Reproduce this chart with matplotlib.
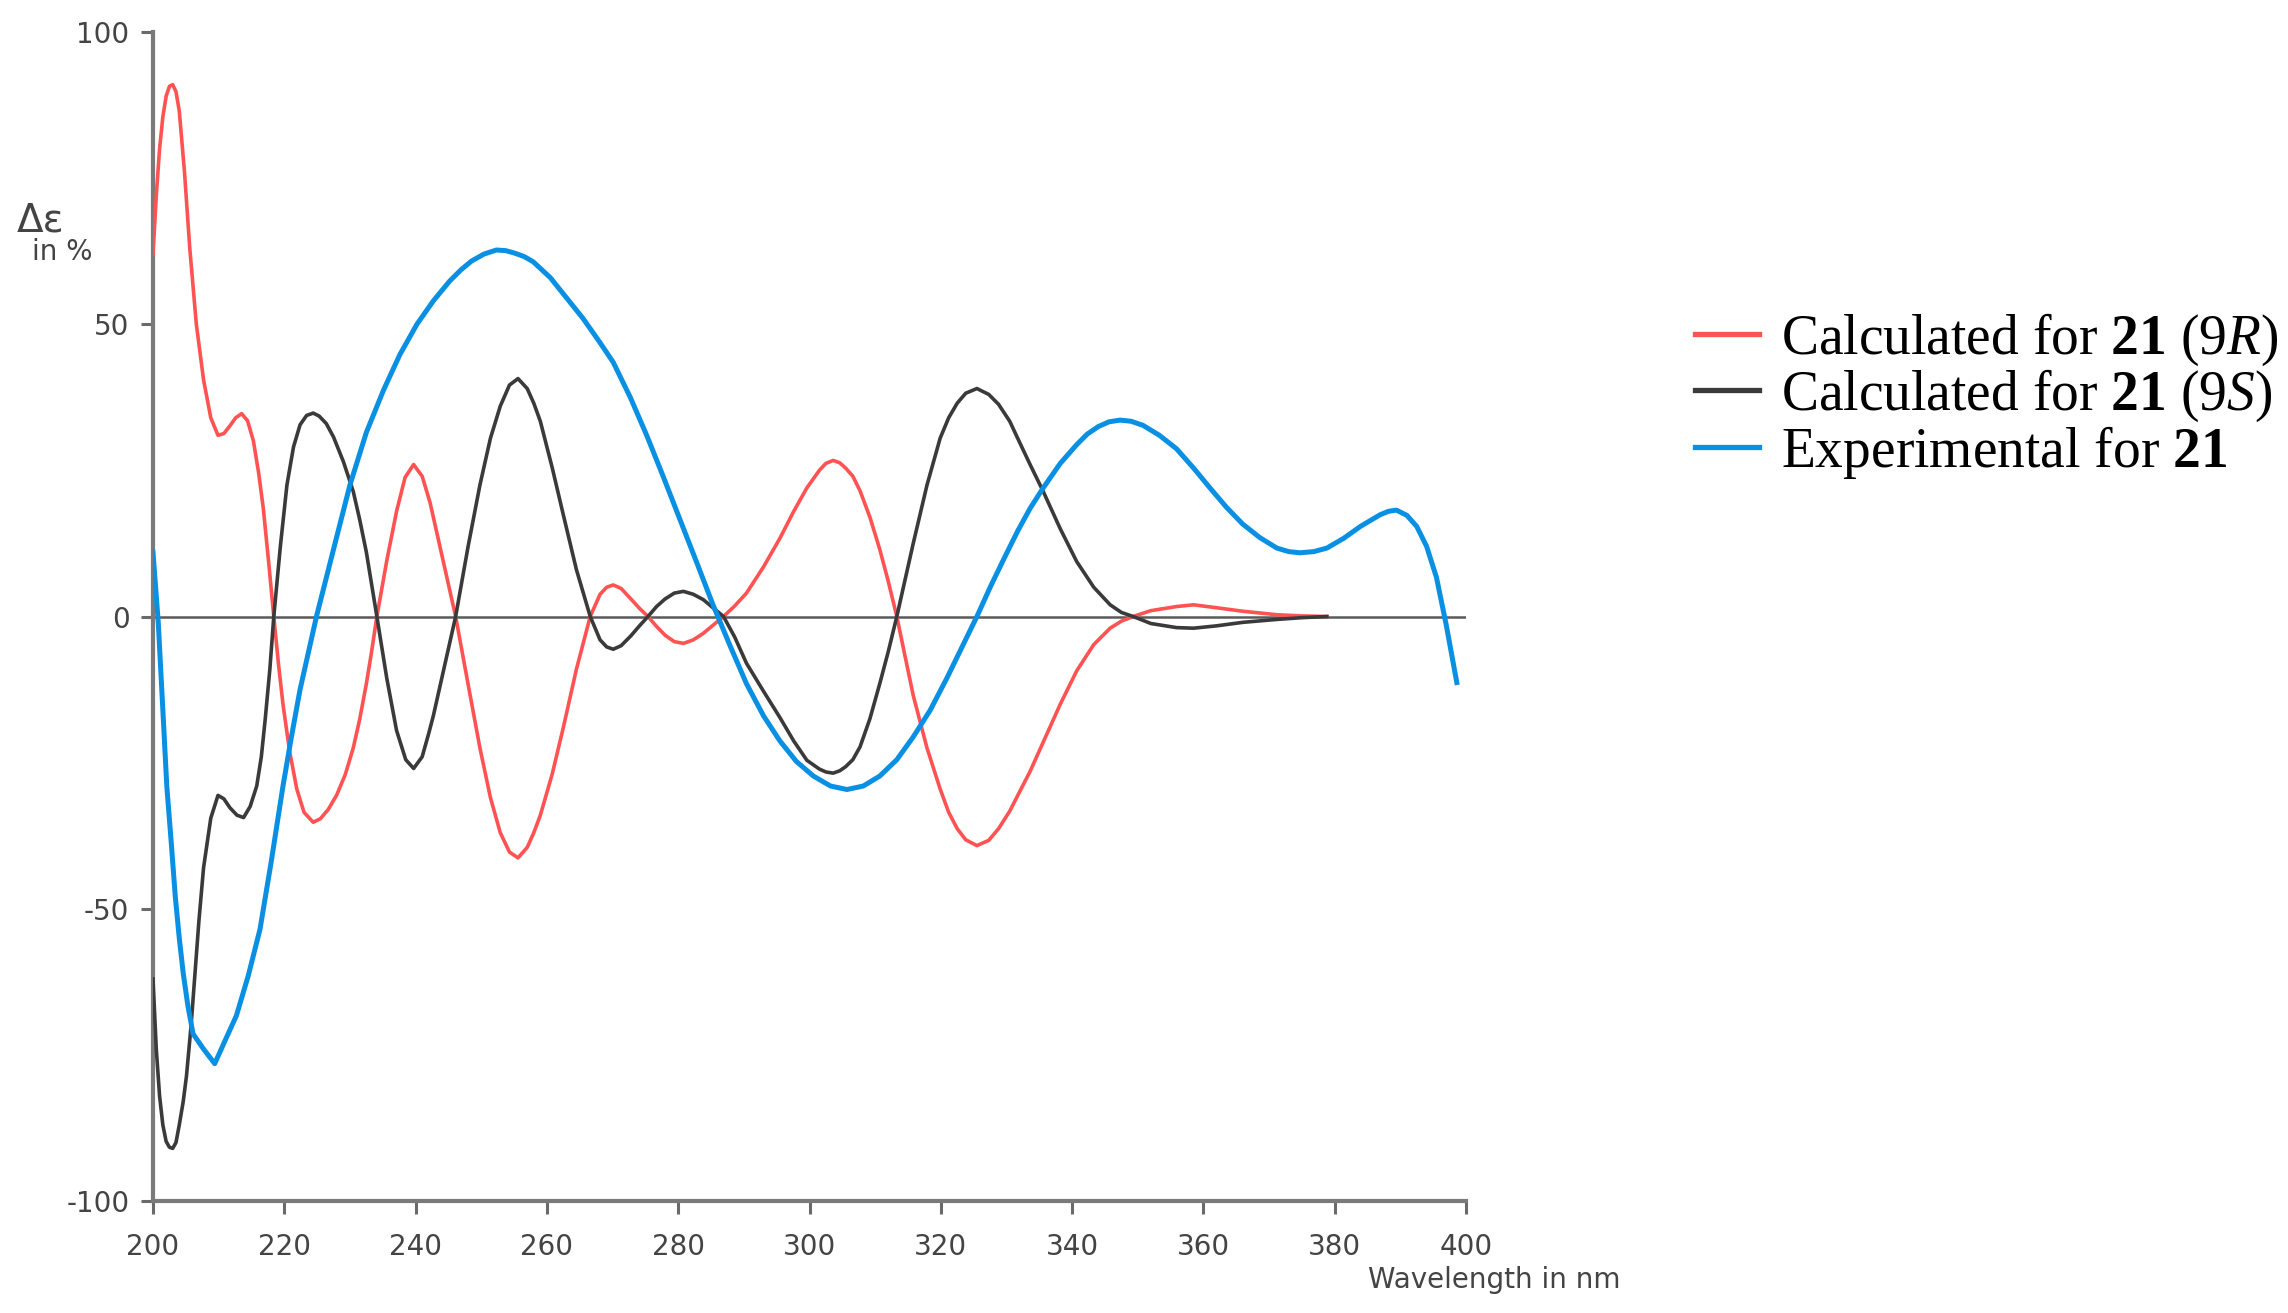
import matplotlib
matplotlib.use('Agg')
import matplotlib.pyplot as plt

plt.rcParams['mathtext.fontset'] = 'custom'
plt.rcParams['mathtext.rm'] = 'Liberation Serif'
plt.rcParams['mathtext.it'] = 'Liberation Serif:italic'
plt.rcParams['mathtext.bf'] = 'Liberation Serif:bold'
plt.rcParams['axes.unicode_minus'] = False

# calculated for 21 (9R)
wl_9r = [200, 200.5, 201, 201.5, 202, 202.5, 203, 203.5, 204, 204.8, 205.6, 206.6,
         207.7, 208.8, 209.9, 210.8, 211.7, 212.6, 213.5, 214.4, 215.3, 216.1, 216.8,
         217.6, 218.4, 219.1, 219.8, 220.8, 221.9, 223.0, 224.4, 225.5, 226.7, 228.0,
         229.3, 230.5, 231.5, 232.5, 233.3, 234.1, 235.6, 237.1, 238.4, 239.7, 241.0,
         242.2, 243.2, 244.2, 245.2, 246.1, 247.9, 249.8, 251.4, 252.9, 254.3, 255.6,
         257.0, 258.0, 259.0, 260.8, 262.5, 264.5, 266.6, 268.1, 269.1, 270.1, 271.3,
         272.8, 274.1, 275.4, 276.7, 278.0, 279.4, 280.8, 282.3, 283.8, 285.3, 286.9,
         288.6, 290.4, 293.0, 295.5, 297.6, 299.6, 301.5, 302.5, 303.6, 304.6, 305.5,
         306.6, 307.7, 309.2, 310.7, 312.0, 313.3, 314.5, 315.8, 317.9, 319.9, 321.2,
         322.5, 323.8, 325.5, 327.3, 328.8, 330.5, 332.0, 333.6, 335.6, 338.2, 340.7,
         343.3, 345.8, 347.5, 349.3, 352.0, 355.9, 358.5, 362.0, 366.0, 371.2, 375.0,
         378.8]
de_9r = [62, 72, 80, 85.5, 89, 90.7, 91, 89.8, 86.5, 76, 63, 50,
         40.5, 34, 31, 31.3, 32.6, 34, 34.7, 33.5, 30, 24.5, 18.5,
         9.5, 0, -8, -15, -23, -29.5, -33.5, -35.2, -34.6, -33, -30.5,
         -27, -22.5, -17.5, -11.5, -6, 0, 9.5, 18, 23.8, 26, 24,
         19.5, 14.5, 9.5, 4.5, 0, -11, -22.5, -31, -37, -40.3, -41.3,
         -39.5, -37, -34, -27, -19, -9, 0, 3.8, 5, 5.4, 4.8,
         3, 1.4, 0, -1.7, -3.2, -4.3, -4.6, -4, -2.9, -1.5, 0,
         1.8, 4, 8.5, 13.4, 18, 22, 25, 26.2, 26.7, 26.3, 25.4,
         24, 21.5, 17, 11.5, 6, 0, -6.5, -13.5, -22.5, -29.5, -33.5,
         -36.3, -38.2, -39.2, -38.3, -36.3, -33.3, -30, -26.5, -21.5, -15, -9.3,
         -4.8, -2, -0.8, 0, 1, 1.7, 2, 1.5, 0.9, 0.3, 0.1,
         0]

# calculated for 21 (9S)
wl_9s = [200, 200.5, 201, 201.5, 202, 202.5, 203, 203.5, 204, 204.6, 205.1, 205.8,
         206.4, 207.0, 207.7, 208.8, 209.9, 210.8, 211.7, 212.8, 213.8, 214.8, 215.8,
         216.5, 217.1, 217.8, 218.4, 219.4, 220.4, 221.4, 222.4, 223.4, 224.4, 225.3,
         226.4, 227.5, 229.0, 230.5, 231.5, 232.5, 233.3, 234.1, 235.6, 237.1, 238.5,
         239.7, 241.0, 242.0, 242.7, 243.6, 244.5, 245.3, 246.1, 248.0, 249.8, 251.4,
         252.9, 254.3, 255.6, 257.0, 258.0, 259.0, 260.8, 262.5, 264.5, 266.6, 268.1,
         269.1, 270.1, 271.3, 272.8, 274.1, 275.4, 276.7, 278.0, 279.4, 280.8, 282.3,
         283.8, 285.3, 286.9, 288.6, 290.4, 293.0, 295.5, 297.6, 299.6, 301.5, 302.5,
         303.6, 304.6, 305.5, 306.6, 307.7, 309.2, 310.7, 312.0, 313.3, 314.5, 315.8,
         317.9, 319.9, 321.2, 322.5, 323.8, 325.5, 327.3, 328.8, 330.5, 332.0, 333.6,
         335.6, 338.2, 340.7, 343.3, 345.8, 347.5, 349.3, 352.0, 355.9, 358.5, 362.0,
         366.0, 371.2, 375.0, 378.8]
de_9s = [-62, -74, -82, -87, -89.8, -90.8, -91, -90, -87, -83, -78.6, -70,
         -61, -52, -43, -34.5, -30.6, -31.2, -32.7, -34, -34.4, -32.5, -29,
         -24, -17.5, -9, 0, 12, 22.5, 29, 32.8, 34.4, 34.8, 34.3,
         33, 30.7, 26.5, 21.4, 16.5, 11, 5.5, 0, -10.5, -19.5, -24.5,
         -26, -24, -20, -17, -12.5, -8, -4, 0, 12, 22.5, 30.5,
         36, 39.6, 40.7, 39, 36.5, 33.4, 25.5, 17.4, 8, 0, -4,
         -5.2, -5.6, -5, -3.3, -1.6, 0, 1.7, 3, 4, 4.3, 3.8,
         2.9, 1.5, 0, -3.5, -8, -12.8, -17.3, -21.3, -24.6, -26.1, -26.6,
         -26.8, -26.4, -25.7, -24.5, -22.3, -17.5, -11.5, -6, 0, 6, 12.5,
         22.5, 30.5, 34, 36.5, 38.2, 39, 38, 36.3, 33.4, 29.8, 26,
         21.4, 15, 9.4, 5, 2, 0.7, 0, -1.2, -1.9, -2, -1.6,
         -1, -0.5, -0.2, 0]

# experimental for 21
wl_exp = [200, 200.8, 201.5, 202.1, 202.8, 203.4, 204.0, 204.6, 205.3, 206.1, 207.7,
          209.4, 211.0, 212.7, 214.5, 216.3, 218.0, 219.8, 221.1, 222.4, 223.7, 224.9,
          227.5, 230.0, 232.5, 235.1, 237.6, 240.2, 242.7, 245.2, 246.9, 248.5, 250.4,
          252.3, 253.7, 255.0, 256.5, 257.9, 260.5, 263.0, 265.5, 268.0, 270.1, 272.7,
          275.2, 277.7, 280.3, 282.8, 285.3, 287.9, 290.4, 293.0, 295.5, 298.0, 300.6,
          303.2, 305.7, 308.2, 310.7, 313.3, 315.8, 318.4, 320.9, 323.2, 325.5, 327.6,
          329.8, 331.7, 333.6, 335.6, 338.2, 340.7, 342.3, 344.0, 345.6, 347.3, 349.0,
          350.8, 353.3, 355.9, 358.5, 361.0, 363.5, 366.0, 368.6, 371.2, 373.0, 374.7,
          376.8, 378.8, 381.4, 383.9, 386.9, 388.2, 389.4, 391.0, 392.5, 394.0, 395.5,
          397.0, 398.6]
de_exp = [11, -1, -16, -29, -39, -48, -55, -61, -66.5, -71.4, -74,
          -76.5, -72.5, -68.3, -61.5, -53.5, -42, -29, -20.5, -12.5, -6, 0,
          11.5, 22.5, 31.5, 38.7, 44.8, 50, 54, 57.4, 59.3, 60.8, 62,
          62.7, 62.6, 62.2, 61.6, 60.7, 58, 54.5, 51, 47, 43.5, 37.5,
          31, 24, 16.5, 9.3, 2, -5, -11.5, -17, -21.3, -24.8, -27.3,
          -29, -29.6, -29, -27.3, -24.5, -20.6, -16, -10.6, -5.3, 0, 5.2,
          10.3, 14.6, 18.5, 22, 26.2, 29.4, 31.2, 32.5, 33.3, 33.6, 33.4,
          32.7, 31, 28.7, 25.4, 22, 18.7, 15.8, 13.5, 11.7, 11.1, 10.9,
          11.1, 11.7, 13.4, 15.4, 17.4, 18, 18.2, 17.3, 15.4, 12, 6.7,
          -1.5, -11.3]

x_ticks = [200, 220, 240, 260, 280, 300, 320, 340, 360, 380, 400]
y_ticks = [-100, -50, 0, 50, 100]

labels = [r'Calculated for $\mathbf{21}$ (9$\mathit{R}$)',
          r'Calculated for $\mathbf{21}$ (9$\mathit{S}$)',
          r'Experimental for $\mathbf{21}$']

fig = plt.figure(figsize=(22.88, 13.13), dpi=100)
ax = fig.add_axes([153 / 2288, 1 - 1201 / 1313, 1313 / 2288, 1169 / 1313])

ax.axhline(0, color='#5a5a5a', linewidth=1.8, zorder=1)
l1, = ax.plot(wl_9r, de_9r, color='#ff5252', linewidth=2.6, zorder=3)
l2, = ax.plot(wl_9s, de_9s, color='#3a3a3a', linewidth=2.6, zorder=3)
l3, = ax.plot(wl_exp, de_exp, color='#0a90e3', linewidth=3.6, zorder=4)

ax.set_xlim(200, 400)
ax.set_ylim(-100, 100)
ax.set_xticks(x_ticks)
ax.set_yticks(y_ticks)
for s in ['top', 'right']:
    ax.spines[s].set_visible(False)
for s in ['left', 'bottom']:
    ax.spines[s].set_color('#7a7a7a')
    ax.spines[s].set_linewidth(3)

tick_font = ['DejaVu Sans']
ax.tick_params(direction='out', length=9, width=2.2, color='#6a6a6a',
               labelsize=20, labelcolor='#444444', pad=8)
ax.tick_params(axis='x', pad=14)

fig.text(17 / 2288, 1 - 220 / 1313, '\u0394\u03b5', fontsize=28, color='#444444',
         ha='left', va='center', family=tick_font)
fig.text(32 / 2288, 1 - 252 / 1313, 'in %', fontsize=20, color='#444444',
         ha='left', va='center', family=tick_font)
fig.text(1620 / 2288, 1 - 1280 / 1313, 'Wavelength in nm', fontsize=20, color='#444444',
         ha='right', va='center', family=tick_font)

leg = fig.legend([l1, l2, l3], labels, loc='center left',
                 bbox_to_anchor=(1695 / 2288, 1 - 396 / 1313), frameon=False,
                 prop={'family': 'Liberation Serif', 'size': 40},
                 handlelength=1.15, handletextpad=0.4, labelspacing=0.0,
                 borderpad=0, borderaxespad=0)
for h in leg.get_lines():
    h.set_linewidth(3.8)

plt.savefig('out.png', dpi=100)
